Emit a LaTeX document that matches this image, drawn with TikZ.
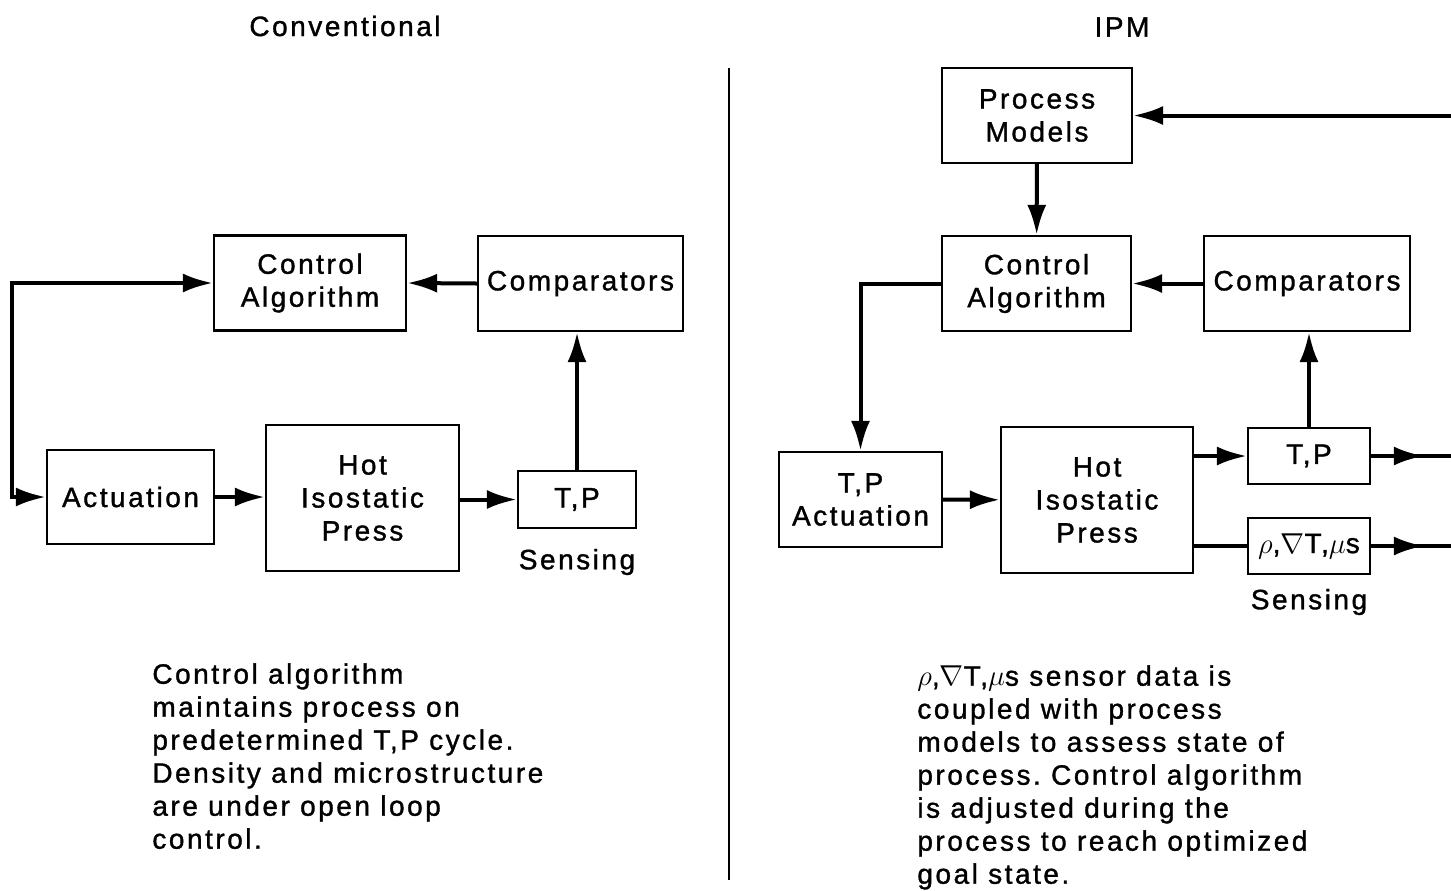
\documentclass[tikz,border=0pt]{standalone}
\usepackage{fontspec}
\setmainfont[LetterSpace=9,FakeBold=1.2]{Liberation Sans}
\usetikzlibrary{positioning,arrows.meta,decorations.markings}
\frenchspacing

\begin{document}
\begin{tikzpicture}[x=0.5pt, y=-0.5pt, every node/.style={font=\fontsize{14}{16.5}\selectfont}]
		\tikzset{>={Latex[length=15pt,width=9.5pt]}}
		\tikzset{blk/.style={draw=black, line width=1.1pt, align=center, inner sep=0pt}}
		\tikzset{flow/.style={->, line width=2pt}}
		\tikzset{midflow/.style={line width=2pt, postaction={decorate}, decoration={markings, mark=at position 0.66 with {\arrow{>}}}}}
		\useasboundingbox (0,0) rectangle (1451,890);

		% titles and divider
		\node (ltitle) at (345,26) {Conventional};
		\node (rtitle) at (1122,27) {IPM};
		\coordinate (dtop) at (729,68);
		\coordinate (dbot) at (729,880);
		\draw[line width=1pt] (dtop) -- (dbot);

		% conventional
		\node[blk, minimum width=96pt, minimum height=47.5pt] (lctrl) at (310,283) {Control\\Algorithm};
		\node[blk, minimum width=102.5pt, minimum height=47.5pt] (lcomp) at (580.5,283.5) {Comparators};
		\node[blk, minimum width=83.5pt, minimum height=47pt] (lact) at (130.5,497) {Actuation};
		\node[blk, minimum width=96.5pt, minimum height=73pt] (lhip) at (362.5,498) {Hot\\Isostatic\\Press};
		\node[blk, minimum width=59pt, minimum height=28.5pt] (ltp) at (577,499.5) {T,P};
		\node (lsens) at (577,562) {Sensing};
		\coordinate (lloop) at (12,390);
		\draw[flow] (lcomp.west) -- (lctrl.east);
		\draw[flow] (lact.east) -- (lact.east -| lhip.west);
		\draw[flow] (lhip.east |- ltp) -- (ltp.west);
		\draw[flow] (ltp.north) -- (ltp.north |- lcomp.south);
		\draw[flow, <->] (lctrl.west) -| (lloop) |- (lact.west);
		\node[anchor=north west, align=left, inner sep=0pt] (lnote) at (152,663) {Control algorithm\\maintains process on\\predetermined T,P cycle.\\Density and microstructure\\are under open loop\\control.};

		% IPM
		\node[blk, minimum width=95pt, minimum height=47.5pt] (rmodel) at (1037,115.5) {Process\\Models};
		\node[blk, minimum width=94.5pt, minimum height=47.5pt] (rctrl) at (1036.5,283.5) {Control\\Algorithm};
		\node[blk, minimum width=103pt, minimum height=47.5pt] (rcomp) at (1307,283.5) {Comparators};
		\node[blk, minimum width=81.5pt, minimum height=47.5pt] (ract) at (860.5,499.5) {T,P\\Actuation};
		\node[blk, minimum width=96pt, minimum height=73pt] (rhip) at (1097,500) {Hot\\Isostatic\\Press};
		\node[blk, minimum width=61pt, minimum height=28pt] (rtp) at (1309,456) {T,P};
		\node[blk, minimum width=61pt, minimum height=28pt] (rsens) at (1309,546) {$\rho$,$\nabla$T,$\mu$s};
		\node (rsenslbl) at (1309,602) {Sensing};
		\coordinate (rin) at (1451,115.5);
		\coordinate (rout1) at (1451,456);
		\coordinate (rout2) at (1451,546);
		\draw[flow] (rin) -- (rmodel.east);
		\draw[flow] (rmodel) -- (rctrl);
		\draw[flow] (rcomp) -- (rctrl);
		\draw[flow] (rctrl.west) -| (ract.north);
		\draw[flow] (ract) -- (rhip);
		\draw[flow] (rhip.east |- rtp) -- (rtp.west);
		\draw[line width=2pt] (rhip.east |- rsens) -- (rsens.west);
		\draw[midflow] (rtp.east) -- (rout1);
		\draw[midflow] (rsens.east) -- (rout2);
		\draw[flow] (rtp.north) -- (rtp.north |- rcomp.south);
		\node[anchor=north west, align=left, inner sep=0pt] (rnote) at (917,665) {$\rho$,$\nabla$T,$\mu$s sensor data is\\coupled with process\\models to assess state of\\process. Control algorithm\\is adjusted during the\\process to reach optimized\\goal state.};
	\end{tikzpicture}
\end{document}
